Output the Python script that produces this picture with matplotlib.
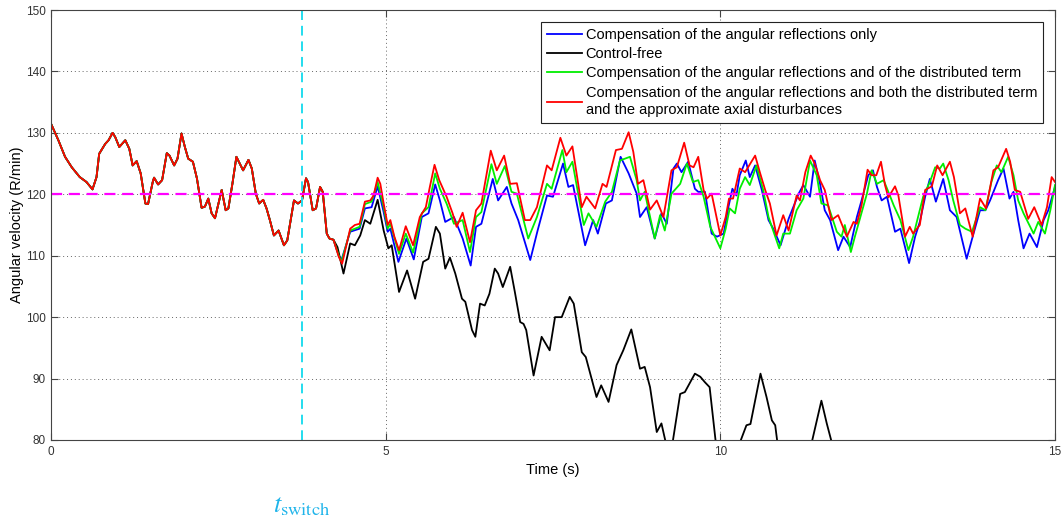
import numpy as np
import matplotlib
matplotlib.use("Agg")
import matplotlib.pyplot as plt
import matplotlib.transforms as mtransforms

plt.rcParams['font.family'] = ['Liberation Sans', 'DejaVu Sans']
plt.rcParams['mathtext.fontset'] = 'stix'

# common part (before the controllers start acting)
t_common = [0.0, 0.11, 0.21, 0.31, 0.43, 0.53, 0.62, 0.68, 0.72, 0.81, 0.86, 0.92, 0.96,
            1.02, 1.11, 1.17, 1.22, 1.28, 1.34, 1.41, 1.45, 1.52, 1.54, 1.60, 1.66, 1.73,
            1.77, 1.84, 1.89, 1.95, 2.00, 2.05, 2.12, 2.18, 2.25, 2.30, 2.35, 2.40, 2.45,
            2.55, 2.61, 2.65, 2.71, 2.77, 2.82, 2.87, 2.95, 3.00, 3.06, 3.11, 3.17, 3.22,
            3.27, 3.33, 3.40, 3.48, 3.53, 3.63, 3.69, 3.75, 3.81, 3.84, 3.91, 3.96, 4.02,
            4.06, 4.12, 4.16, 4.22]
v_common = [131.5, 128.8, 126.1, 124.4, 122.8, 122.0, 120.8, 122.8, 126.6, 128.2, 128.8,
            130.0, 129.3, 127.7, 128.8, 127.4, 124.7, 125.4, 123.4, 118.5, 118.4, 122.0,
            122.7, 121.6, 122.3, 126.7, 126.3, 124.7, 125.8, 129.9, 127.7, 125.8, 125.3,
            122.6, 117.8, 118.0, 119.3, 116.9, 116.1, 120.7, 117.4, 117.7, 121.7, 126.1,
            125.0, 123.9, 125.6, 124.2, 120.1, 118.5, 119.1, 117.7, 115.8, 113.3, 114.1,
            111.7, 112.5, 119.0, 118.5, 119.0, 122.6, 122.0, 117.4, 117.7, 121.2, 120.4,
            113.6, 112.8, 112.6]

# Compensation of the angular reflections only
t_blue = [4.30, 4.34, 4.47, 4.61, 4.69, 4.79, 4.88, 4.97, 5.03, 5.07, 5.19, 5.31, 5.42,
          5.54, 5.64, 5.74, 5.81, 5.89, 6.02, 6.15, 6.27, 6.35, 6.43, 6.60, 6.68, 6.81,
          6.88, 6.98, 7.16, 7.27, 7.41, 7.50, 7.65, 7.73, 7.80, 7.98, 8.10, 8.17, 8.29,
          8.38, 8.51, 8.63, 8.75, 8.80, 8.90, 9.02, 9.12, 9.20, 9.30, 9.35, 9.42, 9.52,
          9.62, 9.67, 9.77, 9.87, 9.95, 10.05, 10.12, 10.18, 10.24, 10.29, 10.38, 10.44,
          10.52, 10.62, 10.72, 10.79, 10.90, 11.02, 11.17, 11.24, 11.34, 11.41, 11.49,
          11.56, 11.64, 11.76, 11.84, 11.94, 12.04, 12.11, 12.21, 12.28, 12.34, 12.41,
          12.49, 12.61, 12.69, 12.82, 12.91, 12.98, 13.06, 13.13, 13.22, 13.33, 13.43,
          13.53, 13.68, 13.77, 13.88, 13.96, 14.03, 14.15, 14.23, 14.32, 14.38, 14.45,
          14.53, 14.62, 14.73, 14.83, 14.90, 15.0]
v_blue = [110.0, 109.3, 113.9, 114.4, 117.7, 117.9, 121.3, 117.1, 113.9, 114.4, 109.0,
          112.8, 109.4, 116.3, 116.9, 121.6, 119.0, 115.5, 116.3, 112.8, 108.4, 114.7,
          115.2, 122.5, 119.0, 121.2, 118.5, 115.8, 109.3, 114.1, 119.8, 119.6, 125.0,
          121.2, 121.5, 111.7, 115.8, 113.6, 118.5, 119.0, 126.1, 123.4, 120.1, 116.3,
          117.9, 112.8, 116.9, 115.2, 124.2, 125.0, 123.6, 125.3, 120.9, 120.4, 120.4,
          113.6, 113.1, 113.6, 117.9, 120.9, 119.8, 123.1, 125.5, 122.8, 124.7, 120.7,
          115.8, 114.4, 111.7, 116.0, 120.1, 121.5, 119.6, 125.5, 121.7, 117.4, 115.8,
          110.9, 113.1, 111.4, 116.3, 119.0, 123.1, 123.9, 121.2, 119.0, 119.6, 113.9,
          114.4, 108.8, 113.1, 115.5, 119.6, 122.5, 118.8, 122.5, 117.4, 116.3, 109.5,
          113.1, 117.4, 117.4, 119.0, 122.3, 124.2, 119.3, 120.4, 115.8, 111.2, 113.6,
          111.4, 115.8, 117.4, 121.2]

# Control-free
t_black = [4.28, 4.37, 4.47, 4.54, 4.62, 4.69, 4.77, 4.88, 4.97, 5.04, 5.09, 5.20, 5.32,
           5.44, 5.56, 5.64, 5.75, 5.81, 5.89, 5.96, 6.04, 6.14, 6.19, 6.29, 6.34, 6.41,
           6.48, 6.55, 6.63, 6.68, 6.75, 6.86, 6.93, 7.01, 7.06, 7.10, 7.21, 7.33, 7.45,
           7.53, 7.63, 7.75, 7.81, 7.93, 7.99, 8.15, 8.22, 8.33, 8.45, 8.55, 8.67, 8.80,
           8.87, 8.95, 9.05, 9.12, 9.18, 9.23, 9.29, 9.40, 9.47, 9.62, 9.70, 9.77, 9.84,
           9.93, 10.10, 10.30, 10.39, 10.45, 10.60, 10.69, 10.77, 10.82, 10.85, 11.10,
           11.37, 11.51, 11.59, 11.66, 12.00, 13.00, 14.00, 15.00]
v_black = [111.4, 107.1, 112.0, 111.7, 113.3, 115.8, 115.2, 119.1, 114.1, 111.2, 111.7,
           104.1, 107.6, 103.0, 109.0, 109.5, 114.7, 113.6, 107.9, 109.7, 107.1, 103.0,
           102.5, 97.9, 96.8, 102.2, 101.9, 103.8, 107.9, 107.1, 104.9, 108.2, 104.1,
           99.2, 98.9, 97.9, 90.5, 96.8, 94.6, 100.0, 100.0, 103.3, 102.2, 94.3, 93.5,
           87.0, 88.9, 86.2, 92.2, 94.6, 98.0, 91.6, 91.9, 88.6, 81.3, 82.7, 79.8, 78.5,
           79.8, 87.5, 87.8, 90.8, 90.3, 89.4, 88.6, 79.8, 76.0, 79.8, 82.4, 82.6, 90.8,
           87.0, 83.2, 82.4, 79.8, 75.0, 79.8, 86.4, 82.7, 79.8, 75.0, 72.0, 70.0, 68.0]

# Compensation of the angular reflections and of the distributed term
t_green = [4.30, 4.34, 4.47, 4.61, 4.69, 4.79, 4.88, 4.97, 5.03, 5.07, 5.20, 5.30, 5.41,
           5.54, 5.64, 5.74, 5.81, 5.91, 6.02, 6.15, 6.26, 6.35, 6.43, 6.58, 6.66, 6.78,
           6.88, 6.96, 7.13, 7.26, 7.41, 7.48, 7.64, 7.70, 7.79, 7.96, 8.03, 8.15, 8.28,
           8.38, 8.50, 8.65, 8.75, 8.80, 8.87, 9.02, 9.10, 9.17, 9.27, 9.40, 9.50, 9.59,
           9.67, 9.75, 9.85, 10.0, 10.08, 10.14, 10.22, 10.29, 10.37, 10.44, 10.54, 10.64,
           10.72, 10.88, 10.94, 11.04, 11.14, 11.24, 11.34, 11.44, 11.51, 11.61, 11.74,
           11.81, 11.86, 11.95, 12.01, 12.19, 12.26, 12.34, 12.44, 12.54, 12.59, 12.69,
           12.81, 12.88, 13.03, 13.13, 13.21, 13.28, 13.33, 13.41, 13.48, 13.58, 13.66,
           13.76, 13.88, 13.96, 14.05, 14.13, 14.20, 14.30, 14.38, 14.45, 14.53, 14.68,
           14.75, 14.85, 14.93, 15.0]
v_green = [110.0, 109.0, 114.1, 114.7, 118.4, 118.8, 122.0, 117.9, 114.4, 115.2, 110.3,
           113.6, 110.5, 116.9, 117.9, 123.4, 120.9, 118.5, 115.2, 115.8, 110.6, 116.3,
           117.1, 124.9, 121.7, 124.6, 120.4, 120.1, 112.8, 116.3, 121.7, 120.9, 127.2,
           123.6, 125.3, 115.0, 116.9, 114.7, 118.8, 120.4, 125.5, 126.1, 122.3, 119.0,
           120.4, 112.8, 116.6, 114.1, 120.1, 121.7, 125.0, 122.0, 122.3, 119.6, 114.7,
           111.2, 114.4, 117.7, 116.9, 120.9, 122.8, 121.5, 124.7, 120.7, 116.3, 111.2,
           113.6, 113.6, 117.4, 119.3, 125.5, 123.1, 118.5, 118.2, 113.9, 113.1, 115.0,
           110.6, 113.1, 120.1, 123.9, 121.7, 122.3, 119.6, 118.2, 115.8, 110.9, 113.1,
           119.6, 122.0, 124.4, 124.2, 125.0, 122.3, 119.0, 115.0, 114.4, 113.9, 117.9,
           117.4, 122.0, 124.7, 123.6, 126.1, 123.1, 119.0, 116.9, 113.6, 115.5, 113.6,
           117.4, 121.5]

# Compensation of the angular reflections, distributed term and axial disturbances
t_red = [4.30, 4.35, 4.47, 4.54, 4.61, 4.69, 4.77, 4.82, 4.88, 4.92, 4.97, 5.03, 5.07,
         5.13, 5.20, 5.30, 5.41, 5.51, 5.60, 5.66, 5.73, 5.80, 5.91, 6.00, 6.06, 6.15,
         6.26, 6.35, 6.43, 6.57, 6.66, 6.77, 6.86, 6.96, 7.08, 7.16, 7.26, 7.41, 7.48,
         7.61, 7.70, 7.79, 7.93, 8.00, 8.13, 8.24, 8.30, 8.44, 8.53, 8.63, 8.70, 8.77,
         8.85, 8.95, 9.05, 9.15, 9.27, 9.35, 9.46, 9.54, 9.60, 9.67, 9.75, 9.80, 9.87,
         10.0, 10.08, 10.13, 10.19, 10.29, 10.37, 10.52, 10.59, 10.67, 10.74, 10.84,
         10.94, 11.02, 11.14, 11.19, 11.27, 11.35, 11.41, 11.49, 11.56, 11.66, 11.76,
         11.89, 11.99, 12.04, 12.11, 12.20, 12.26, 12.33, 12.40, 12.46, 12.51, 12.61,
         12.66, 12.76, 12.83, 12.88, 12.98, 13.06, 13.16, 13.24, 13.32, 13.43, 13.49,
         13.58, 13.66, 13.77, 13.88, 13.97, 14.08, 14.15, 14.27, 14.33, 14.40, 14.48,
         14.60, 14.69, 14.80, 14.88, 14.95, 15.0]
v_red = [109.8, 108.7, 114.4, 115.0, 115.2, 118.8, 119.0, 119.8, 122.7, 121.7, 118.5,
         115.0, 115.8, 113.1, 110.9, 114.8, 111.7, 116.3, 117.9, 121.2, 124.8, 122.3,
         119.6, 116.9, 114.7, 117.0, 112.2, 117.4, 118.5, 127.1, 123.9, 126.3, 121.7,
         121.8, 115.8, 115.8, 117.9, 124.7, 123.9, 129.2, 126.3, 127.8, 117.9, 119.6,
         117.7, 121.7, 121.2, 127.2, 127.4, 130.1, 126.9, 121.7, 122.3, 117.5, 119.0,
         116.3, 123.9, 124.4, 128.4, 124.7, 124.4, 126.1, 120.7, 119.3, 120.1, 113.3,
         116.3, 119.3, 119.3, 124.2, 123.6, 126.3, 123.6, 120.7, 118.5, 113.3, 116.6,
         114.1, 119.8, 119.0, 123.6, 126.3, 125.0, 122.3, 120.7, 115.8, 116.6, 113.1,
         115.5, 115.2, 118.2, 124.0, 123.1, 123.1, 125.3, 121.5, 119.5, 121.3, 119.8,
         113.1, 114.7, 113.6, 115.0, 120.7, 121.3, 124.7, 123.1, 125.3, 122.8, 116.9,
         117.7, 113.1, 119.3, 117.7, 123.9, 124.4, 127.4, 125.3, 120.7, 120.4, 116.0,
         117.9, 115.0, 117.9, 122.8, 122.0]

labels = ['Compensation of the angular reflections only',
          'Control-free',
          'Compensation of the angular reflections and of the distributed term',
          'Compensation of the angular reflections and both the distributed term\n'
          'and the approximate axial disturbances']
colors = ['#0000FF', '#000000', '#00EE00', '#FF0000']

v_ref = 120
t_switch = 3.75

series = [(t_blue, v_blue), (t_black, v_black), (t_green, v_green), (t_red, v_red)]

fig = plt.figure(figsize=(10.61, 5.22), dpi=100)
ax = fig.add_axes([51 / 1061, 1 - 440 / 522, 1004 / 1061, 430 / 522])

for (tt, vv), c, lab in zip(series, colors, labels):
    t_all = np.concatenate([t_common, tt])
    v_all = np.concatenate([v_common, vv])
    ax.plot(t_all, v_all, color=c, lw=1.3, label=lab)

ax.axhline(v_ref, color='#FF00FF', lw=1.6, ls=(0, (5, 3)))
ax.axvline(t_switch, color='#22DDEE', lw=1.4, ls=(0, (5, 3)))

ax.set_xlim(0, 15)
ax.set_ylim(80, 150)
ax.set_xticks([0, 5, 10, 15])
ax.set_yticks(np.arange(80, 151, 10))
ax.grid(True, ls=(0, (1, 3)), color='#666666', lw=0.7)
ax.tick_params(direction='in', top=True, right=True, length=5, labelsize=8.5,
               colors='#444444', labelcolor='#333333', pad=4)
for sp in ax.spines.values():
    sp.set_color('#444444')
    sp.set_linewidth(0.8)

ax.set_xlabel('Time (s)', fontsize=10.5, labelpad=4)
ax.set_ylabel('Angular velocity (R/min)', fontsize=10.5, labelpad=1)

leg = ax.legend(loc='upper right', bbox_to_anchor=(0.988, 0.972), borderaxespad=0,
                fontsize=10.5, fancybox=False, framealpha=1, edgecolor='#222222',
                handlelength=2.4, handletextpad=0.25, labelspacing=0.36, borderpad=0.4)
leg.get_frame().set_linewidth(0.8)
for txt in leg.get_texts():
    txt.set_linespacing(1.35)

# t_switch label under the axis, aligned with the switch line
trans = mtransforms.blended_transform_factory(ax.transData, fig.transFigure)
ax.text(t_switch, 0.03, r'$t_{\mathrm{switch}}$', transform=trans, ha='center',
        va='center', fontsize=19, color='#1EB4EA')

fig.savefig('out.png', dpi=100)
